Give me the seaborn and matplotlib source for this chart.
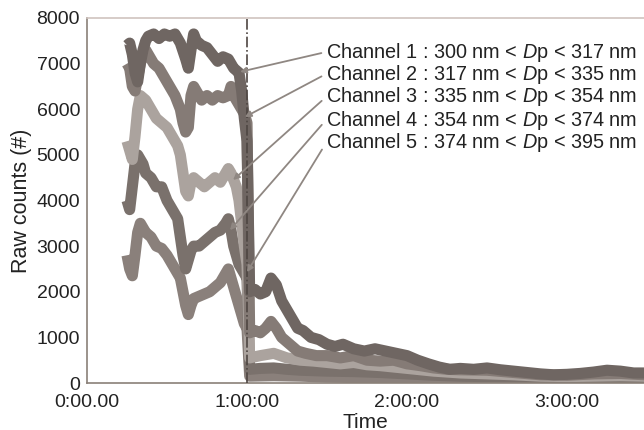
import matplotlib
matplotlib.use("Agg")
import matplotlib.pyplot as plt
import seaborn as sns
import pandas as pd

# ---- data (time in minutes, raw counts) ----
t1 = [15,16,17,18,19,20,21,22,23,25,27,29,31,33,35,37,38,39,40,41,43,45,47,49,51,53,54,55,56,57,58,59,60,
      61,63,65,67,69,71,73,75,77,79,81,84,87,90,93,96,100,104,108,112,116,120,124,128,132,136,140,145,150,155,160,165,170,175,180,185,190,195,200,205,209]
c1 = [7400,7450,7200,6800,6600,7000,7300,7500,7600,7650,7550,7650,7600,7650,7450,7100,6900,7300,7650,7500,7400,7350,7200,7050,7150,7100,7000,6900,6850,6800,6400,5800,5300,
      2000,2050,1950,2000,2300,2150,1800,1600,1400,1200,1150,1000,950,850,800,850,750,700,750,700,650,600,500,420,350,300,320,300,330,290,260,230,200,180,190,210,240,280,260,220,220]

t2 = [15,16,17,18,19,20,21,22,23,25,27,29,31,33,35,36,37,38,39,40,41,43,45,47,49,51,53,54,55,56,57,58,59,60,
      61,63,65,67,69,71,73,75,77,79,82,86,90,95,100,105,110,115,120,125,130,135,140,150,160,170,180,190,200,209]
c2 = [7000,6900,6500,6400,6700,7000,7200,7300,7200,7000,6900,6700,6500,6300,6000,5700,5500,5600,6300,6500,6400,6200,6300,6200,6300,6250,6300,6500,6300,6200,6100,6000,5900,5700,
      1100,1150,1100,1200,1350,1200,1000,900,800,700,650,600,600,550,600,500,480,500,420,380,330,300,290,280,230,180,170,200,210,180]

t3 = [15,16,17,18,19,20,21,22,24,26,28,30,32,34,35,36,37,38,39,40,42,44,46,48,50,52,53,54,55,56,57,58,59,60,
      61,65,70,75,80,85,90,95,100,105,110,115,120,130,140,150,160,170,180,190,200,209]
c3 = [5300,5100,4900,5400,6000,6300,6250,6200,6000,5800,5700,5600,5400,5200,5000,4600,4200,4100,4400,4500,4400,4300,4400,4500,4400,4600,4700,4600,4450,4300,4000,3500,3000,2600,
      550,600,650,550,500,480,450,420,450,400,380,350,320,260,220,200,180,150,140,150,160,150]

t4 = [15,16,17,18,19,20,21,22,24,26,28,30,32,34,35,36,37,38,39,40,42,44,46,48,50,52,53,54,55,56,57,58,59,60,
      61,65,70,75,80,90,100,110,120,130,140,150,160,170,180,190,200,209]
c4 = [4000,3800,4300,4800,5000,4900,4800,4600,4500,4300,4300,4000,3800,3600,3200,2800,2500,2700,2900,3000,3000,3100,3200,3300,3350,3500,3600,3350,3000,2800,2600,2500,2400,2300,
      300,320,330,300,280,260,250,230,200,170,150,140,130,110,100,110,120,110]

t5 = [15,16,17,18,19,20,21,22,24,26,28,30,32,34,35,36,37,38,39,40,42,44,46,48,50,52,53,54,55,56,57,58,59,60,
      61,70,80,90,100,120,140,160,180,200,209]
c5 = [2800,2500,2350,2800,3300,3500,3400,3300,3200,3000,2950,2800,2600,2400,2300,2000,1700,1500,1700,1850,1900,1950,2000,2100,2200,2400,2500,2300,2100,1900,1700,1500,1300,1200,
      150,160,150,130,120,100,80,70,60,70,60]

labels = ["Channel 1 : 300 nm < $\\it{D}$p < 317 nm",
          "Channel 2 : 317 nm < $\\it{D}$p < 335 nm",
          "Channel 3 : 335 nm < $\\it{D}$p < 354 nm",
          "Channel 4 : 354 nm < $\\it{D}$p < 374 nm",
          "Channel 5 : 374 nm < $\\it{D}$p < 395 nm"]
arrow_t = [57.4, 59.2, 54.8, 53.6, 60.0]
arrow_v = [6820, 5830, 4450, 3350, 2430]
xticks = [0, 60, 120, 180]
xticklabels = ["0:00.00", "1:00:00", "2:00:00", "3:00:00"]
yticks = [0, 1000, 2000, 3000, 4000, 5000, 6000, 7000, 8000]

colors = ["#6f6662", "#857b76", "#aba39e", "#7a716c", "#8a807b"]

# ---- style ----
sns.set_style("white")
plt.rcParams["font.family"] = ["Liberation Sans", "DejaVu Sans"]
plt.rcParams["mathtext.fontset"] = "custom"
plt.rcParams["mathtext.rm"] = "Liberation Sans"
plt.rcParams["mathtext.it"] = "Liberation Sans:italic"

fig = plt.figure(figsize=(6.44, 4.30), dpi=100)
ax = fig.add_axes([87/644, 47/430, 1 - 87/644, 365/430])

series = [(t1, c1), (t2, c2), (t3, c3), (t4, c4), (t5, c5)]
frames = []
for i, (tt, cc) in enumerate(series):
    frames.append(pd.DataFrame({"Time": tt, "Counts": cc, "Channel": f"ch{i+1}"}))
df = pd.concat(frames, ignore_index=True)

draw_order = [4, 3, 2, 1, 0]
for i in draw_order:
    sub = df[df["Channel"] == f"ch{i+1}"]
    sns.lineplot(data=sub, x="Time", y="Counts", ax=ax, color=colors[i],
                 linewidth=8, estimator=None, sort=False, legend=False,
                 solid_joinstyle="round", solid_capstyle="butt")

ax.axvline(60, color="#4e4642", linestyle="-.", linewidth=1.2, zorder=5)

ax.set_xlim(0, (644 - 87) / 160 * 60)
ax.set_ylim(0, 8000)
ax.set_xticks(xticks)
ax.set_xticklabels(xticklabels)
ax.set_yticks(yticks)
ax.tick_params(axis="both", labelsize=14, colors="#222222", length=3,
               direction="out", width=0.8, pad=2)
ax.tick_params(axis="x", pad=5)
ax.tick_params(axis="both", color="#8a8078")
ax.set_xlabel("Time", fontsize=15, color="#222222", labelpad=1)
ax.set_ylabel("Raw counts (#)", fontsize=15.5, color="#222222", labelpad=3)

for s in ["left", "bottom"]:
    ax.spines[s].set_color("#8a8078")
    ax.spines[s].set_linewidth(1.2)
ax.spines["top"].set_color("#cfc4bf")
ax.spines["top"].set_linewidth(1.2)
ax.spines["right"].set_visible(False)

text_t = (326 - 87) / 160 * 60
text_y = [(383 - yp) / 365 * 8000 for yp in [52, 74, 97, 120, 143]]
for lab, at, av, ty in zip(labels, arrow_t, arrow_v, text_y):
    ax.annotate(lab, xy=(at, av), xytext=(text_t, ty), textcoords="data",
                ha="left", va="center", fontsize=14.3, color="#222222",
                arrowprops=dict(arrowstyle="-|>", color="#8f8782", lw=1.3,
                                mutation_scale=9, shrinkA=1, shrinkB=0,
                                relpos=(0, 0.5)),
                zorder=6)

fig.savefig("out.png", dpi=100)
